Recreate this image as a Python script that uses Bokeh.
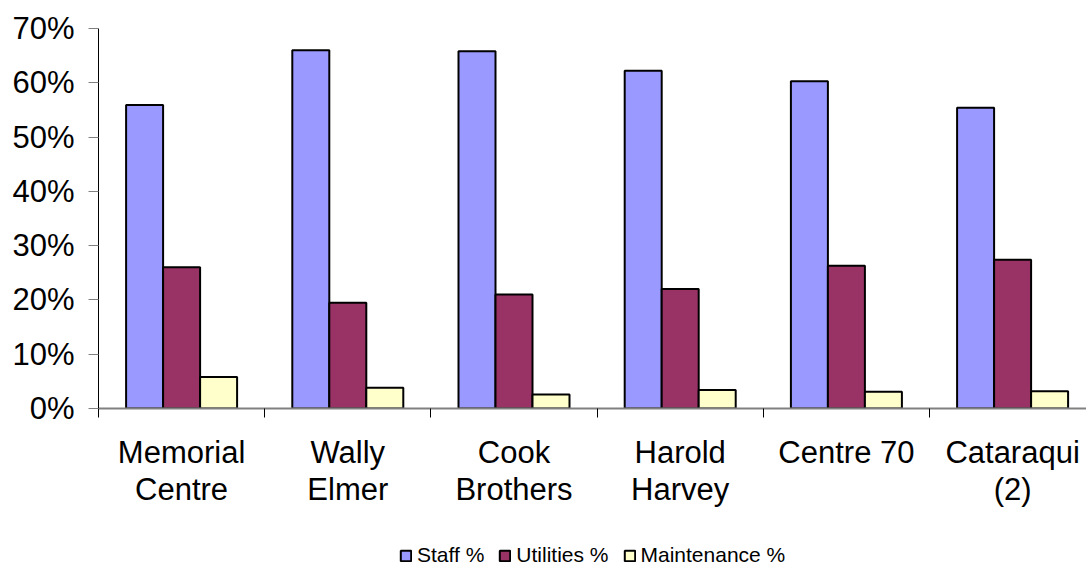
from bokeh.plotting import figure
from bokeh.layouts import column
from bokeh.models import Range1d, FixedTicker, PrintfTickFormatter, Legend, LegendItem, ColumnDataSource
from bokeh.embed import file_html
from bokeh.resources import INLINE
import numpy as np

categories = ["Memorial\nCentre", "Wally\nElmer", "Cook\nBrothers", "Harold\nHarvey", "Centre 70", "Cataraqui\n(2)"]
staff = [55.9, 66.0, 65.8, 62.2, 60.3, 55.4]
utilities = [26.0, 19.5, 21.0, 22.0, 26.3, 27.4]
maintenance = [5.8, 3.8, 2.6, 3.4, 3.1, 3.2]
series_names = ["Staff %", "Utilities %", "Maintenance %"]
colors = ["#9999FF", "#993366", "#FFFFCC"]
y_ticks = [0, 10, 20, 30, 40, 50, 60, 70]

W, H = 1086, 567
LEG_H = 26
MAIN_H = H - LEG_H
left, top, bottom_frame = 98, 28, 408
cat_px = 166.2
n = len(categories)
x_end = (W - left) / cat_px

p = figure(width=W, height=MAIN_H,
           output_backend="svg", toolbar_location=None,
           x_range=Range1d(0, x_end), y_range=Range1d(0, 70),
           min_border_left=left, min_border_right=0, min_border_top=top,
           min_border_bottom=MAIN_H - bottom_frame)
p.outline_line_color = None
p.xgrid.visible = False
p.ygrid.visible = False
p.background_fill_color = "white"
p.border_fill_color = "white"

centers = np.arange(n) + 0.5
bw = 37 / cat_px
sources = []
for k, (vals, name, col) in enumerate(zip([staff, utilities, maintenance], series_names, colors)):
    src = ColumnDataSource(dict(x=centers + (k - 1) * bw, top=vals))
    sources.append(src)
    p.vbar(x="x", top="top", width=bw, bottom=0, source=src,
           fill_color=col, line_color="black", line_width=2)

# y axis
yax = p.yaxis[0]
yax.ticker = FixedTicker(ticks=y_ticks)
yax.formatter = PrintfTickFormatter(format="%d%%")
yax.major_label_text_font = "Liberation Sans"
yax.major_label_text_font_size = "31px"
yax.major_label_text_color = "black"
yax.axis_line_color = "black"
yax.axis_line_width = 1
yax.major_tick_line_color = "#808080"
yax.major_tick_out = 10
yax.major_tick_in = 0
yax.minor_tick_line_color = None
yax.major_label_standoff = 14

# x axis
xax = p.xaxis[0]
xax.ticker = FixedTicker(ticks=list(centers), minor_ticks=list(range(n + 1)))
xax.major_label_overrides = {float(c): lab for c, lab in zip(centers, categories)}
xax.major_label_text_font = "Liberation Sans"
xax.major_label_text_font_size = "31px"
xax.major_label_text_color = "black"
xax.major_label_text_line_height = 1.07
xax.axis_line_color = "#808080"
xax.axis_line_width = 2
xax.major_tick_line_color = None
xax.major_tick_out = 0
xax.major_tick_in = 0
xax.minor_tick_line_color = "black"
xax.minor_tick_out = 9
xax.minor_tick_in = 0
xax.major_label_standoff = 17

# legend strip below the chart (its renderers are hidden; only the legend shows)
lf = figure(width=W, height=LEG_H, output_backend="svg", toolbar_location=None,
            x_axis_type=None, y_axis_type=None,
            x_range=Range1d(0, x_end), y_range=Range1d(1000, 1001),
            min_border_left=left, min_border_right=0, min_border_top=0, min_border_bottom=0)
lf.outline_line_color = None
lf.xgrid.visible = False
lf.ygrid.visible = False
lf.border_fill_color = "white"
items = []
for src, name, col in zip(sources, series_names, colors):
    r = lf.vbar(x="x", top="top", width=bw, bottom=0, source=src,
                fill_color=col, line_color="black", line_width=2)
    r.visible = False
    items.append(LegendItem(label=name, renderers=[r]))

legend = Legend(items=items, orientation="horizontal", location=(399 - left, 0),
                label_text_font="Liberation Sans", label_text_font_size="21px",
                label_text_color="black",
                glyph_width=13, glyph_height=13, label_standoff=5, spacing=14,
                padding=0, margin=0, border_line_color=None,
                background_fill_alpha=0, label_height=20,
                inactive_fill_alpha=0)
lf.add_layout(legend)

layout = column(p, lf, spacing=0)
open("out.html", "w").write(file_html(layout, INLINE))
